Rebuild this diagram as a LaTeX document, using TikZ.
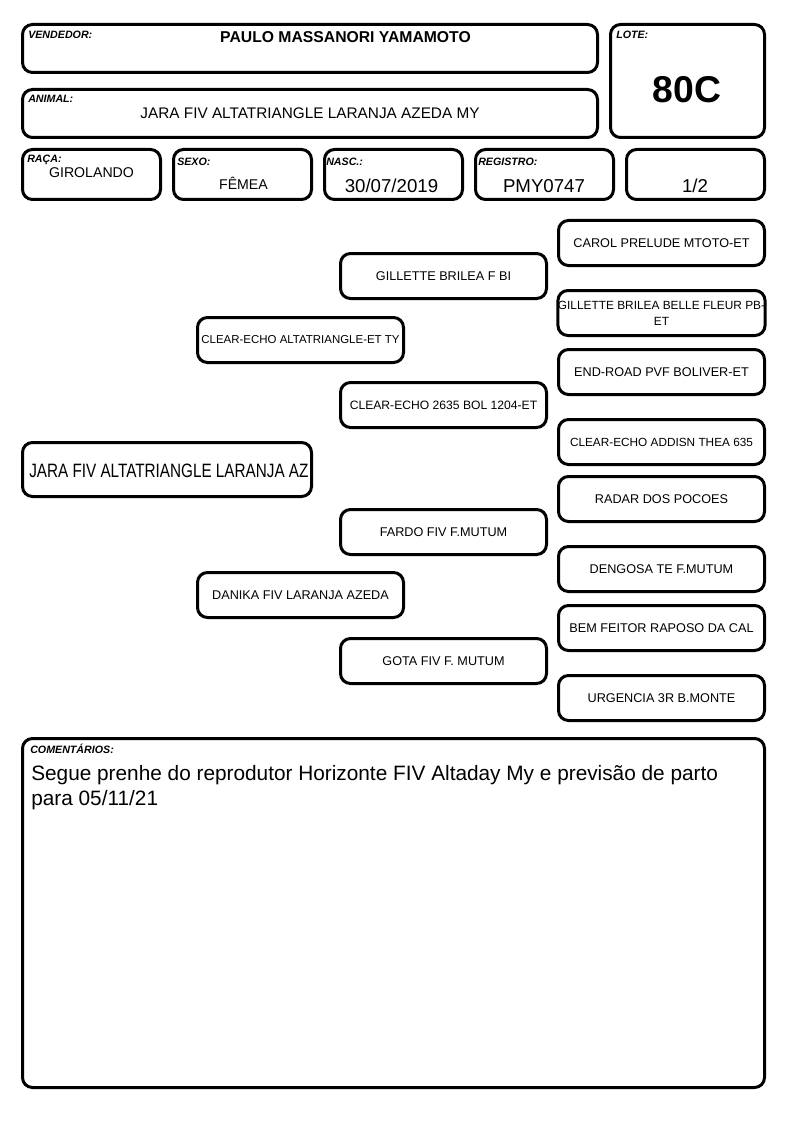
\documentclass[tikz,border=0pt]{standalone}
\usepackage{fontspec}
\setmainfont{Liberation Sans}
\usepackage{graphicx}
\usepackage{xcolor}
\definecolor{fcInk}{RGB}{0,0,0}
\usepackage{tikz}
\usetikzlibrary{positioning}

\begin{document}
\begin{tikzpicture}[x=0.75pt,y=-0.75pt,
  box/.style={draw=fcInk,line width=2.25pt,rounded corners=7.5pt,inner sep=0pt},
  cell/.style={box,minimum width=103.5pt,minimum height=37.5pt},
  ped/.style={box,minimum width=154.5pt,minimum height=33.75pt,align=center,font=\fontsize{9.5pt}{11pt}\selectfont},
  tag/.style={anchor=base west,inner sep=0pt,text=fcInk,font=\fontsize{8pt}{9pt}\selectfont\bfseries\itshape},
  val/.style={anchor=base,inner sep=0pt,text=fcInk}]
  \useasboundingbox (0,0) rectangle (794,1123);

  \node[box,minimum width=431.25pt,minimum height=36pt] (seller) at (310,48.5) {};
  \node[box,minimum width=115.5pt,minimum height=84.75pt] (lot) at (687.5,81) {};
  \node[box,minimum width=431.25pt,minimum height=36pt] (animalhd) at (310,113.5) {};
  \node[cell] (breed) at (91.5,174.5) {};
  \node[cell,right=7.5pt of breed] (sex) {};
  \node[cell,right=7.5pt of sex] (birth) {};
  \node[cell,right=7.5pt of birth] (reg) {};
  \node[cell,right=7.5pt of reg] (frac) {};

  \node[tag] (sellerlbl) at (28,39) {VENDEDOR:};
  \node[tag] (lotlbl) at (616,39) {LOTE:};
  \node[tag] (animallbl) at (28,103) {ANIMAL:};
  \node[tag] (breedlbl) at (27,163) {RAÇA:};
  \node[tag] (sexlbl) at (177,166) {SEXO:};
  \node[tag] (birthlbl) at (326,166) {NASC.:};
  \node[tag] (reglbl) at (478,166) {REGISTRO:};

  \node[val,font=\fontsize{11.8pt}{13pt}\selectfont\bfseries] (sellername) at (345.5,43) {PAULO MASSANORI YAMAMOTO};
  \node[val,font=\fontsize{11.5pt}{13pt}\selectfont] (animalhdname) at (310,119) {JARA FIV ALTATRIANGLE LARANJA AZEDA MY};
  \node[val,font=\fontsize{28pt}{30pt}\selectfont\bfseries] (lotno) at (687,103) {80C};
  \node[val,font=\fontsize{10.6pt}{12pt}\selectfont] (breedval) at (91.5,178) {GIROLANDO};
  \node[val,font=\fontsize{10.6pt}{12pt}\selectfont] (sexval) at (243.5,190) {FÊMEA};
  \node[val,font=\fontsize{14pt}{16pt}\selectfont] (birthval) at (391.5,193) {30/07/2019};
  \node[val,font=\fontsize{14pt}{16pt}\selectfont] (regval) at (544,193) {PMY0747};
  \node[val,font=\fontsize{14pt}{16pt}\selectfont] (fracval) at (695,193) {1/2};

  \node[box,minimum width=216.75pt,minimum height=40.5pt] (animal) at (167,469.5) {};
  \node[anchor=base west,inner sep=0pt,font=\fontsize{14.5pt}{16pt}\selectfont] (animalname) at (29,477) {\scalebox{0.79}[1]{JARA FIV ALTATRIANGLE LARANJA AZ}};

  \node[ped,font=\fontsize{8.6pt}{10pt}\selectfont] (s) at (300.5,340) {CLEAR-ECHO ALTATRIANGLE-ET TY};
  \node[ped] (d) at (300.5,595) {DANIKA FIV LARANJA AZEDA};

  \node[ped] (ss) at (443.5,276) {GILLETTE BRILEA F BI};
  \node[ped,font=\fontsize{9.1pt}{11pt}\selectfont] (sd) at (443.5,405) {CLEAR-ECHO 2635 BOL 1204-ET};
  \node[ped] (ds) at (443.5,532) {FARDO FIV F.MUTUM};
  \node[ped] (dd) at (443.5,661) {GOTA FIV F. MUTUM};

  \node[ped] (sss) at (661.5,243) {CAROL PRELUDE MTOTO-ET};
  \node[ped,font=\fontsize{8.9pt}{12pt}\selectfont] (ssd) at (661.5,313) {GILLETTE BRILEA BELLE FLEUR PB-\\ET};
  \node[ped] (sds) at (661.5,372) {END-ROAD PVF BOLIVER-ET};
  \node[ped,font=\fontsize{8.85pt}{11pt}\selectfont] (sdd) at (661.5,442) {CLEAR-ECHO ADDISN THEA 635};
  \node[ped] (dss) at (661.5,499) {RADAR DOS POCOES};
  \node[ped] (dsd) at (661.5,569) {DENGOSA TE F.MUTUM};
  \node[ped] (dds) at (661.5,628) {BEM FEITOR RAPOSO DA CAL};
  \node[ped] (ddd) at (661.5,698) {URGENCIA 3R B.MONTE};

  \node[box,minimum width=556.5pt,minimum height=261.75pt] (notes) at (393.5,913) {};
  \node[tag] (noteslbl) at (30,753) {COMENTÁRIOS:};
  \node[anchor=north west,inner sep=0pt,align=left,font=\fontsize{15.6pt}{18.75pt}\selectfont] (notestxt) at (31,765) {Segue prenhe do reprodutor Horizonte FIV Altaday My e previsão de parto\\para 05/11/21};
\end{tikzpicture}
\end{document}
